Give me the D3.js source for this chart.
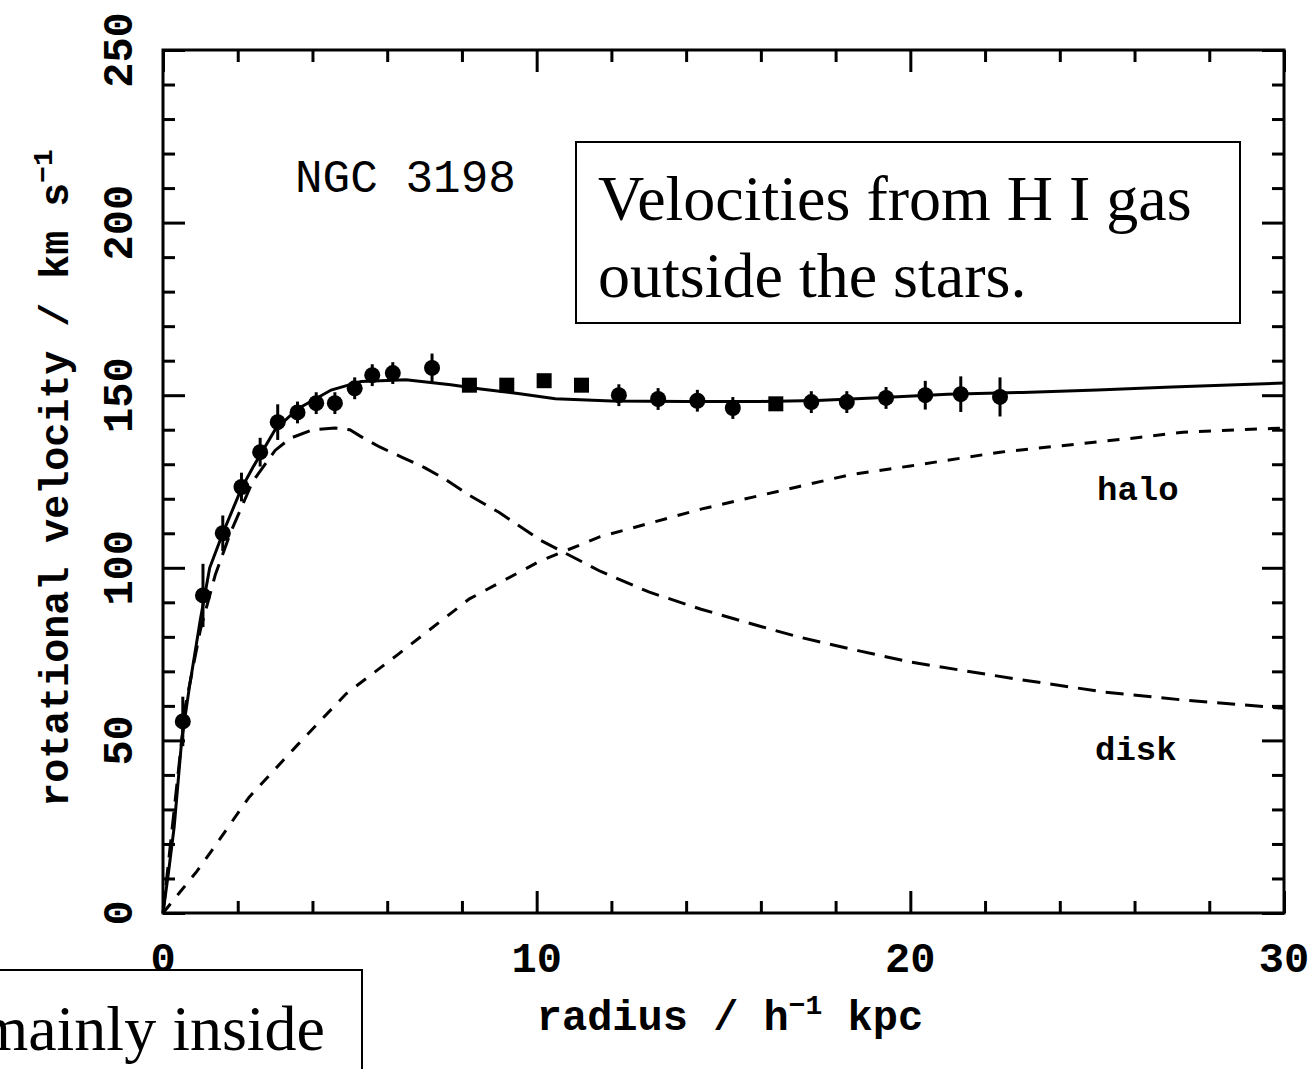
<!DOCTYPE html>
<html>
<head>
<meta charset="utf-8">
<script src="https://cdn.jsdelivr.net/npm/d3@7"></script>
<style>
  html, body { margin: 0; padding: 0; background: #fff; overflow: hidden; }
  svg { display: block; }
</style>
</head>
<body>
<div id="chart"></div>
<script>
// observed rotation velocities (NGC 3198)
const obsR = [0.53, 1.07, 1.6, 2.1, 2.6, 3.07, 3.6, 4.1, 4.6, 5.13, 5.6, 6.15, 7.2,
              8.2, 9.2, 10.2, 11.2, 12.2, 13.25, 14.3, 15.25, 16.4, 17.35, 18.3, 19.35, 20.4, 21.35, 22.4];
const obsV = [55.5, 92, 110, 123.4, 133.5, 142.2, 145, 147.7, 147.7, 152, 155.8, 156.4, 157.9,
              152.9, 152.9, 154.2, 152.9, 150, 148.9, 148.4, 146.3, 147.5, 148, 148, 149.2, 150, 150.3, 149.5];
const obsErr = [6, 8, 4, 3, 3, 4, 2, 2, 2, 2, 2, 2, 3,
                0, 0, 0, 0, 2, 2, 2, 2, 0, 2, 2, 2, 3, 4, 4.5];
const obsShape = ["c","c","c","c","c","c","c","c","c","c","c","c","c",
                  "s","s","s","s","c","c","c","c","s","c","c","c","c","c","c"];

// fitted model
const totalR = [0, 0.15, 0.3, 0.5, 0.7, 1.0, 1.25, 1.6, 2.1, 2.4, 3, 3.6, 4.5, 5.3, 6.5, 7.7,
                8.5, 9.5, 10.5, 12, 14, 16, 17.5, 19, 21, 23, 25, 27, 30];
const totalV = [0, 12, 25, 50, 65, 85, 100, 110, 123, 129, 140, 146, 151.5, 154, 154.5, 153,
                151.8, 150.5, 149, 148.3, 148.2, 148.2, 148.5, 149.2, 150.3, 150.8, 151.5, 152.4, 153.5];

const diskR = [0, 0.3, 0.6, 1, 1.4, 1.8, 2.4, 3, 3.4, 4, 4.6, 5, 5.3, 5.8, 6.4, 7, 7.5, 8.2, 9,
               10.1, 11.7, 13, 14.4, 16, 17, 18.6, 20, 22.7, 25.2, 27.3, 30];
const diskV = [0, 30, 60, 82, 98, 110, 125, 134, 137.5, 140, 140.5, 140, 138, 135, 132, 129, 126, 121, 116,
               108, 99, 93, 88, 83, 80, 76, 72.7, 68, 64, 61.7, 59.3];

const haloR = [0, 0.45, 0.9, 1.3, 2.3, 3.6, 4.9, 6.3, 8.2, 10.1, 11.7, 14.4, 17, 18.4, 20, 22.4, 26, 27.3, 30];
const haloV = [0, 6, 12, 18, 33.5, 48.7, 63.5, 75, 91, 102, 109, 117, 123.5, 127, 129.5, 133.5, 137.6, 139.3, 140.5];

const xTicks = [0, 10, 20, 30];
const yTicks = [0, 50, 100, 150, 200, 250];

const width = 1313, height = 1069;
const margin = {top: 50, right: 29, bottom: 156, left: 163};
const mono = "'Liberation Mono', 'DejaVu Sans Mono', monospace";
const serif = "'Liberation Serif', 'Times New Roman', serif";

const svg = d3.select("#chart").append("svg")
    .attr("width", width)
    .attr("height", height);

const x = d3.scaleLinear().domain([0, 30]).range([margin.left, width - margin.right]);
const y = d3.scaleLinear().domain([0, 250]).range([height - margin.bottom, margin.top]);

// ticks on all four sides, pointing inward
const tickStroke = g => g.selectAll("line").attr("stroke", "#000").attr("stroke-width", 3);
const minorX = d3.range(0, 31, 2);
const minorY = d3.range(0, 251, 10);

const sides = [
    {gen: d3.axisTop, pos: `translate(0,${y(0)})`, scale: x, vals: minorX, majorStep: 10},
    {gen: d3.axisBottom, pos: `translate(0,${y(250)})`, scale: x, vals: minorX, majorStep: 10},
    {gen: d3.axisRight, pos: `translate(${x(0)},0)`, scale: y, vals: minorY, majorStep: 50},
    {gen: d3.axisLeft, pos: `translate(${x(30)},0)`, scale: y, vals: minorY, majorStep: 50}
];
sides.forEach(s => {
    [false, true].forEach(isMajor => {
        const vals = s.vals.filter(v => (v % s.majorStep === 0) === isMajor);
        const ax = s.gen(s.scale).tickValues(vals).tickFormat("")
            .tickSize(isMajor ? 22 : 12).tickSizeOuter(0);
        svg.append("g").attr("transform", s.pos).call(ax)
            .call(g => g.select(".domain").remove())
            .call(tickStroke);
    });
});

// frame
svg.append("rect")
    .attr("x", x(0)).attr("y", y(250))
    .attr("width", x(30) - x(0)).attr("height", y(0) - y(250))
    .attr("fill", "none").attr("stroke", "#000").attr("stroke-width", 3);

// tick labels
svg.append("g").selectAll("text").data(xTicks).join("text")
    .attr("x", d => x(d)).attr("y", 972)
    .attr("text-anchor", "middle")
    .attr("font-family", mono).attr("font-weight", "bold").attr("font-size", 42)
    .text(d => d);

svg.append("g").selectAll("text").data(yTicks).join("text")
    .attr("transform", d => `translate(132,${y(d)}) rotate(-90)`)
    .attr("text-anchor", "middle")
    .attr("font-family", mono).attr("font-weight", "bold").attr("font-size", 42)
    .text(d => d);

// axis titles
const xt = svg.append("text")
    .attr("x", 730).attr("y", 1030)
    .attr("text-anchor", "middle")
    .attr("font-family", mono).attr("font-weight", "bold").attr("font-size", 42);
xt.append("tspan").text("radius / h");
xt.append("tspan").attr("dy", -16).attr("font-size", 28).text("−1");
xt.append("tspan").attr("dy", 16).text(" kpc");

const yt = svg.append("text")
    .attr("transform", "translate(68,478) rotate(-90)")
    .attr("text-anchor", "middle")
    .attr("font-family", mono).attr("font-weight", "bold").attr("font-size", 40);
yt.append("tspan").text("rotational velocity / km s");
yt.append("tspan").attr("dy", -16).attr("font-size", 28).text("−1");

// model curves
const line = d3.line().x(d => x(d[0])).y(d => y(d[1]));
const pairs = (rs, vs) => rs.map((r, i) => [r, vs[i]]);

svg.append("path").datum(pairs(diskR, diskV))
    .attr("d", line).attr("fill", "none")
    .attr("stroke", "#000").attr("stroke-width", 3).attr("stroke-dasharray", "18,10");

svg.append("path").datum(pairs(haloR, haloV))
    .attr("d", line).attr("fill", "none")
    .attr("stroke", "#000").attr("stroke-width", 3).attr("stroke-dasharray", "12,11");

svg.append("path").datum(pairs(totalR, totalV))
    .attr("d", line).attr("fill", "none")
    .attr("stroke", "#000").attr("stroke-width", 3);

// observed points with error bars
const obs = obsR.map((r, i) => ({r, v: obsV[i], e: obsErr[i], s: obsShape[i]}));

svg.append("g").selectAll("line").data(obs.filter(d => d.e > 0)).join("line")
    .attr("x1", d => x(d.r)).attr("x2", d => x(d.r))
    .attr("y1", d => y(d.v - d.e) + 4).attr("y2", d => y(d.v + d.e) - 4)
    .attr("stroke", "#000").attr("stroke-width", 3);

svg.append("g").selectAll("circle").data(obs.filter(d => d.s === "c")).join("circle")
    .attr("cx", d => x(d.r)).attr("cy", d => y(d.v)).attr("r", 8)
    .attr("fill", "#000");

svg.append("g").selectAll("rect").data(obs.filter(d => d.s === "s")).join("rect")
    .attr("x", d => x(d.r) - 7.5).attr("y", d => y(d.v) - 7.5)
    .attr("width", 15).attr("height", 15)
    .attr("fill", "#000");

// annotations
svg.append("text")
    .attr("x", 295).attr("y", 192)
    .attr("font-family", mono).attr("font-size", 46)
    .text("NGC 3198");

svg.append("text")
    .attr("x", 1097).attr("y", 500)
    .attr("font-family", mono).attr("font-weight", "bold").attr("font-size", 34)
    .text("halo");

svg.append("text")
    .attr("x", 1095).attr("y", 760)
    .attr("font-family", mono).attr("font-weight", "bold").attr("font-size", 34)
    .text("disk");

// text boxes
svg.append("rect")
    .attr("x", 576).attr("y", 142).attr("width", 664).attr("height", 181)
    .attr("fill", "#fff").attr("stroke", "#000").attr("stroke-width", 2);
svg.append("text")
    .attr("x", 598).attr("y", 220)
    .attr("font-family", serif).attr("font-size", 64)
    .text("Velocities from H I gas");
svg.append("text")
    .attr("x", 598).attr("y", 297)
    .attr("font-family", serif).attr("font-size", 64)
    .text("outside the stars.");

svg.append("rect")
    .attr("x", -10).attr("y", 970).attr("width", 372).attr("height", 140)
    .attr("fill", "#fff").attr("stroke", "#000").attr("stroke-width", 2);
svg.append("text")
    .attr("x", 325).attr("y", 1050)
    .attr("text-anchor", "end")
    .attr("font-family", serif).attr("font-size", 64)
    .text("mainly inside");
</script>
</body>
</html>
